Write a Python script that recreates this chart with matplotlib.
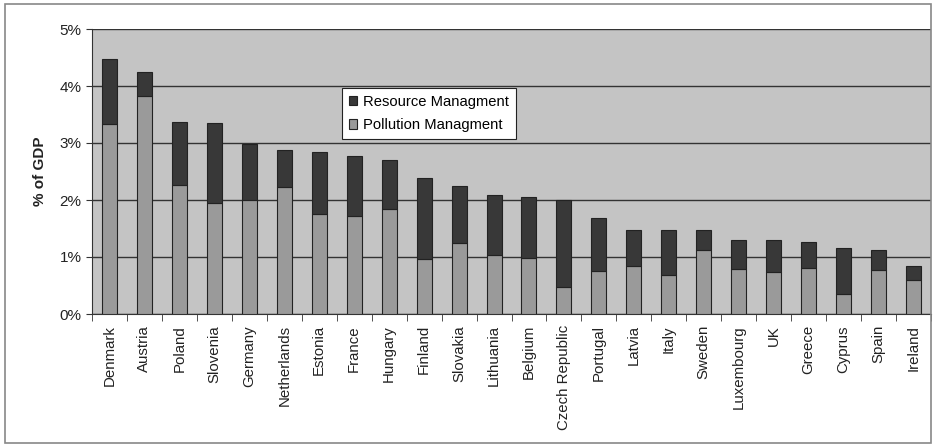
import numpy as np
import matplotlib
matplotlib.use("Agg")
import matplotlib.pyplot as plt
from matplotlib.patches import Rectangle

plt.rcParams['font.family'] = ['Liberation Sans', 'DejaVu Sans']

# Data (% of GDP)
countries = ["Denmark", "Austria", "Poland", "Slovenia", "Germany", "Netherlands",
             "Estonia", "France", "Hungary", "Finland", "Slovakia", "Lithuania",
             "Belgium", "Czech Republic", "Portugal", "Latvia", "Italy", "Sweden",
             "Luxembourg", "UK", "Greece", "Cyprus", "Spain", "Ireland"]
pollution = [3.33, 3.82, 2.26, 1.94, 2.00, 2.23, 1.75, 1.72, 1.85, 0.96, 1.25, 1.03,
             0.99, 0.48, 0.76, 0.84, 0.69, 1.13, 0.79, 0.74, 0.80, 0.35, 0.77, 0.60]
total = [4.47, 4.25, 3.36, 3.35, 2.99, 2.87, 2.84, 2.78, 2.70, 2.38, 2.25, 2.09,
         2.06, 2.00, 1.68, 1.48, 1.47, 1.47, 1.29, 1.29, 1.27, 1.16, 1.12, 0.85]
resource = [t - p for t, p in zip(total, pollution)]

W, H = 933, 446
fig = plt.figure(figsize=(W / 100, H / 100), dpi=100)
fig.patch.set_facecolor("white")

# outer chart frame
fig.add_artist(Rectangle((5 / W, 3 / H), 926 / W, 439 / H, transform=fig.transFigure,
                         fill=False, edgecolor="#888888", linewidth=1.2))

ax = fig.add_axes([92 / W, (H - 314) / H, 839 / W, 285 / H])
ax.set_facecolor("#c4c4c4")

x = np.arange(len(countries))
ax.bar(x, pollution, width=0.43, color="#9a9a9a", edgecolor="#222222", linewidth=0.8,
       label="Pollution Managment", zorder=3)
ax.bar(x, resource, width=0.43, bottom=pollution, color="#383838", edgecolor="#222222",
       linewidth=0.8, label="Resource Managment", zorder=3)

ax.set_xlim(-0.5, len(countries) - 0.5)
ax.set_ylim(0, 5)
ax.set_yticks(range(6))
ax.set_yticklabels([f"{v}%" for v in range(6)], fontsize=11, color="#222222")
ax.yaxis.grid(True, color="#333333", linewidth=1.0, zorder=1)
ax.set_axisbelow(True)

ax.set_xticks(x)
ax.set_xticklabels(countries, rotation=90, fontsize=10.8, color="#222222")
ax.tick_params(axis="x", which="major", length=0, pad=8)
ax.set_xticks(np.arange(-0.5, len(countries)), minor=True)
ax.tick_params(axis="x", which="minor", length=5, color="#333333", direction="out")
ax.tick_params(axis="y", length=4, color="#333333", direction="out")

for side in ["top", "right"]:
    ax.spines[side].set_visible(False)
ax.spines["left"].set_color("#333333")
ax.spines["bottom"].set_color("#333333")

ax.set_ylabel("% of GDP", fontsize=11, fontweight="bold", color="#222222", labelpad=9)

handles, labels = ax.get_legend_handles_labels()
leg = ax.legend(handles[::-1], labels[::-1], loc="upper left",
                bbox_to_anchor=((342 - 92) / 839, (314 - 88) / 285),
                borderaxespad=0, fontsize=10.6, frameon=True, fancybox=False,
                framealpha=1, edgecolor="#222222", handlelength=0.6, handleheight=0.6,
                handletextpad=0.4, borderpad=0.45, labelspacing=0.65)
leg.get_frame().set_linewidth(0.8)

fig.savefig("out.png", dpi=100)
